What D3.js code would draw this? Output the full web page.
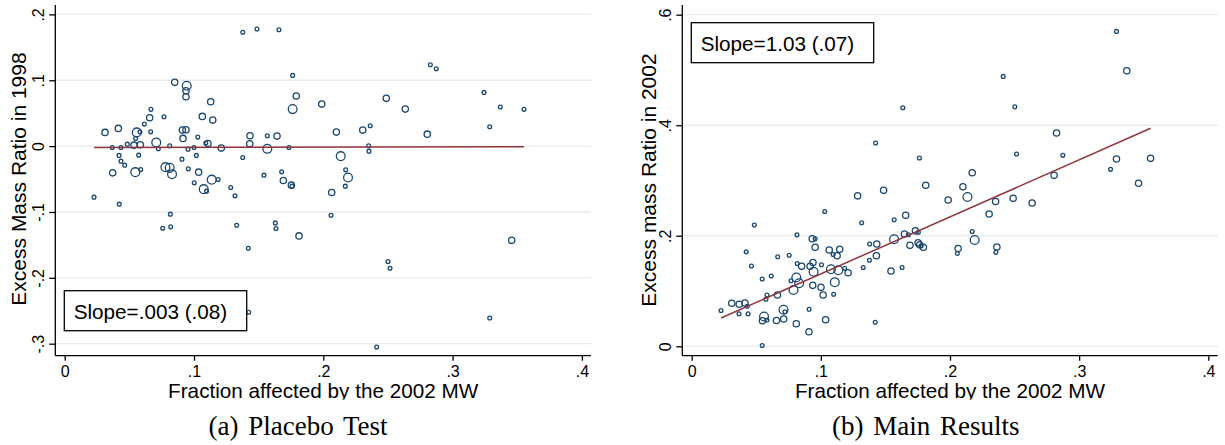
<!DOCTYPE html>
<html>
<head>
<meta charset="utf-8">
<script src="https://cdn.jsdelivr.net/npm/d3@7"></script>
<style>
  body { margin: 0; background: #fff; }
  text { font-family: "Liberation Sans", Arial, sans-serif; fill: #000; }
  .cap { font-family: "Liberation Serif", "Times New Roman", serif; }
</style>
</head>
<body>
<svg id="chart" width="1225" height="445"></svg>
<script>
// axis ticks
var xTicks = [0, .1, .2, .3, .4],
    xTickLabels = ["0", ".1", ".2", ".3", ".4"];
var placeboYTicks = [-.3, -.2, -.1, 0, .1, .2],
    placeboYLabels = ["-.3", "-.2", "-.1", "0", ".1", ".2"];
var mainYTicks = [0, .2, .4, .6],
    mainYLabels = ["0", ".2", ".4", ".6"];

// [fraction affected, excess mass ratio, weight]
var placeboPoints = [
  [0.0227,-0.0775,1],[0.0312,0.0208,2],[0.0368,-0.0020,1],[0.0371,-0.0406,2],[0.0415,0.0269,2],
  [0.0420,-0.0141,1],[0.0435,-0.0228,1],[0.0435,-0.0020,1],[0.0464,-0.0289,1],[0.0484,0.0030,1],
  [0.0536,0.0015,2],[0.0546,-0.0395,3],[0.0549,0.0117,1],[0.0557,0.0208,3],[0.0572,-0.0137,1],
  [0.0582,0.0217,1],[0.0585,0.0020,2],[0.0588,-0.0354,1],[0.0616,0.0334,1],[0.0657,0.0430,2],
  [0.0667,0.0558,1],[0.0665,0.0217,1],[0.0708,0.0056,3],[0.0724,-0.0041,1],[0.0768,0.0445,1],
  [0.0779,-0.0319,3],[0.0812,-0.0330,3],[0.0812,0.0005,1],[0.0830,-0.0426,3],[0.0851,0.0968,2],
  [0.0907,-0.0198,1],[0.0910,0.0243,2],[0.0915,0.0117,2],[0.0938,0.0248,2],[0.0938,0.0749,2],
  [0.0944,0.0916,3],[0.0938,0.0840,2],[0.0954,-0.0046,1],[0.0956,-0.0345,1],[0.1000,-0.0020,1],
  [0.1002,-0.0558,1],[0.1018,-0.0141,1],[0.1029,0.0137,1],[0.1036,-0.0395,2],[0.1064,0.0451,2],
  [0.1075,-0.0653,3],[0.1097,-0.0684,1],[0.1091,0.0046,1],[0.1108,0.0038,2],[0.1129,0.0673,2],
  [0.1137,-0.0509,3],[0.1145,0.0395,2],[0.1187,-0.0506,1],[0.1211,-0.0030,2],[0.1284,-0.0628,1],
  [0.1317,-0.0755,1],[0.1377,0.1728,1],[0.1377,-0.0172,1],[0.1431,0.0035,2],[0.1433,0.0157,2],
  [0.1487,0.1778,1],[0.1541,-0.0441,1],[0.1567,-0.0041,3],[0.1567,0.0157,1],[0.1642,0.0152,2],
  [0.1657,0.1767,1],[0.1678,-0.0391,1],[0.1691,-0.0521,2],[0.1735,-0.0020,1],[0.1753,-0.0593,2],
  [0.1758,-0.0608,1],[0.1763,0.1074,1],[0.1763,0.0562,3],[0.1791,0.0760,2],[0.1988,0.0638,2],
  [0.2101,0.0213,2],[0.2135,-0.0152,3],[0.2173,-0.0360,1],[0.2191,-0.0476,3],[0.2170,-0.0608,1],
  [0.2065,-0.0704,2],[0.2305,0.0243,2],[0.2363,0.0309,1],[0.2351,0.0005,1],[0.2353,-0.0076,1],
  [0.2487,0.0725,2],[0.2634,0.0562,2],[0.2804,0.0182,2],[0.2828,0.1236,1],[0.2874,0.1175,1],
  [0.3243,0.0816,1],[0.3287,0.0293,1],[0.3369,0.0593,1],[0.3552,0.0558,1],[0.0422,-0.0881,1],
  [0.0817,-0.1033,1],[0.0758,-0.1246,1],[0.0820,-0.1226,1],[0.1330,-0.1201,1],[0.1420,-0.1550,1],
  [0.1423,-0.2523,1],[0.1629,-0.1166,1],[0.1634,-0.1251,1],[0.1812,-0.1363,2],[0.2060,-0.1049,1],
  [0.3457,-0.1429,2],[0.2500,-0.1752,1],[0.2516,-0.1854,1],[0.3287,-0.2609,1],[0.2413,-0.3050,1]
];

var mainPoints = [
  [0.1635,0.4316,1],[0.1424,0.3678,1],[0.1763,0.3406,1],[0.1812,0.2914,2],[0.1285,0.2722,2],
  [0.1486,0.2822,2],[0.1030,0.2438,1],[0.1316,0.2236,1],[0.1568,0.2290,1],[0.1657,0.2372,2],
  [0.0485,0.2194,1],[0.3289,0.5698,1],[0.3369,0.4986,2],[0.2412,0.4884,1],[0.2502,0.4334,1],
  [0.2825,0.3859,2],[0.2515,0.3479,1],[0.2874,0.3455,1],[0.3289,0.3388,2],[0.3553,0.3401,2],
  [0.3243,0.3202,1],[0.2172,0.3140,2],[0.2100,0.2887,2],[0.2806,0.3093,2],[0.3460,0.2949,2],
  [0.1986,0.2646,2],[0.2135,0.2701,3],[0.2353,0.2619,2],[0.2489,0.2677,2],[0.2636,0.2592,2],
  [0.2303,0.2393,2],[0.2172,0.2077,1],[0.2191,0.1923,3],[0.2063,0.1769,2],[0.2057,0.1679,1],
  [0.2363,0.1796,2],[0.2355,0.1700,1],[0.0227,0.0648,1],[0.0310,0.0778,2],[0.0366,0.0590,1],
  [0.0368,0.0760,2],[0.0413,0.0783,2],[0.0430,0.0725,1],[0.0437,0.0590,1],[0.0422,0.1711,1],
  [0.0463,0.1453,1],[0.0546,0.1217,1],[0.0560,0.0539,3],[0.0548,0.0463,2],[0.0583,0.0476,1],
  [0.0546,0.0014,1],[0.0575,0.0852,1],[0.0583,0.0928,1],[0.0616,0.1272,1],[0.0656,0.0467,2],
  [0.0666,0.1621,1],[0.0664,0.0928,2],[0.0711,0.0662,3],[0.0712,0.0494,2],[0.0722,0.0624,1],
  [0.0755,0.1648,1],[0.0769,0.1187,1],[0.0810,0.0409,2],[0.0815,0.2017,1],[0.0817,0.1498,1],
  [0.0810,0.1245,3],[0.0788,0.1018,3],[0.0832,0.1141,3],[0.0851,0.1447,2],[0.0909,0.0671,1],
  [0.0908,0.0264,2],[0.0917,0.1449,2],[0.0937,0.1103,2],[0.0933,0.1946,2],[0.0956,0.1945,1],
  [0.0939,0.1516,2],[0.0944,0.1348,3],[0.0956,0.1793,2],[0.1005,0.1476,1],[0.1001,0.1067,2],
  [0.1018,0.0928,2],[0.1037,0.0481,2],[0.1065,0.1742,2],[0.1078,0.1395,3],[0.1099,0.0942,1],
  [0.1108,0.1160,3],[0.1095,0.1661,1],[0.1126,0.1639,2],[0.1146,0.1757,2],[0.1135,0.1377,3],
  [0.1184,0.1411,1],[0.1211,0.1330,2],[0.1328,0.1425,1],[0.1378,0.1851,1],[0.1376,0.1558,1],
  [0.1430,0.1639,2],[0.1433,0.1851,2],[0.1421,0.0434,1],[0.1543,0.1362,2],[0.1567,0.1937,3],
  [0.1629,0.1425,1],[0.1647,0.2031,2],[0.1678,0.2019,1],[0.1690,0.1827,2],[0.1732,0.2089,2],
  [0.1755,0.2064,1],[0.1753,0.1874,2],[0.1765,0.1836,2],[0.1777,0.1818,1],[0.1794,0.1791,2]
];

// fitted line [intercept, slope]
var placeboFit = [-0.0021, 0.003],
    mainFit = [0.0278, 1.032];

var svg = d3.select("#chart");
var navy = "#1a476f", maroon = "#90353b", grid = "#e6eef0";
var rScale = d3.scaleLinear().domain([1, 3]).range([1.9, 4.4]);

function panel(o) {
  var g = svg.append("g");
  var x = d3.scaleLinear().domain([0, .4]).range(o.xRange);
  var y = d3.scaleLinear().domain(o.yDomain).range(o.yRange);

  // grid lines
  g.append("g").selectAll("line").data(o.yTicks).enter().append("line")
    .attr("x1", o.left).attr("x2", o.right)
    .attr("y1", y).attr("y2", y)
    .attr("stroke", grid).attr("stroke-width", 1.3);

  // markers
  g.append("g").selectAll("circle").data(o.points).enter().append("circle")
    .attr("cx", function(d) { return x(d[0]); })
    .attr("cy", function(d) { return y(d[1]); })
    .attr("r", function(d) { return rScale(d[2]); })
    .attr("fill", "none").attr("stroke", navy).attr("stroke-width", 1.3);

  // fitted line
  var ext = d3.extent(o.points, function(d) { return d[0]; });
  g.append("line")
    .attr("x1", x(ext[0])).attr("x2", x(ext[1]))
    .attr("y1", y(o.fit[0] + o.fit[1] * ext[0]))
    .attr("y2", y(o.fit[0] + o.fit[1] * ext[1]))
    .attr("stroke", maroon).attr("stroke-width", 1.5);

  // axes
  var xAxis = g.append("g").attr("transform", "translate(0," + o.bottom + ")")
    .call(d3.axisBottom(x).tickValues(xTicks).tickSize(5).tickSizeOuter(0)
      .tickFormat(function(d, i) { return xTickLabels[i]; }));
  xAxis.select(".domain").attr("d", "M" + o.left + ",0H" + o.right);
  xAxis.selectAll("text").attr("dy", 0).attr("y", 21).style("font-size", "16px")
    .style("font-family", "Liberation Sans, Arial, sans-serif");

  var yAxis = g.append("g").attr("transform", "translate(" + o.left + ",0)")
    .call(d3.axisLeft(y).tickValues(o.yTicks).tickSize(6).tickSizeOuter(0)
      .tickFormat(function(d, i) { return o.yLabels[i]; }));
  yAxis.select(".domain").attr("d", "M0," + o.top + "V" + o.bottom);
  yAxis.selectAll("text").attr("x", null).attr("dy", 0)
    .attr("text-anchor", "middle")
    .attr("transform", "translate(-11.5,0) rotate(-90)")
    .style("font-size", "16px")
    .style("font-family", "Liberation Sans, Arial, sans-serif");
  g.selectAll(".domain, .tick line").attr("stroke", "#000").attr("stroke-width", 1.3);

  // titles
  var cx = (o.left + o.right) / 2;
  g.append("text").attr("clip-path", "url(#clipTitle)")
    .attr("x", cx).attr("y", 398).attr("text-anchor", "middle")
    .style("font-size", "20.7px").text("Fraction affected by the 2002 MW");
  g.append("text")
    .attr("transform", "translate(" + o.yTitleX + "," + o.yTitleY + ") rotate(-90)")
    .attr("text-anchor", "middle").style("font-size", "21px").text(o.yTitle);
  g.append("text").attr("class", "cap")
    .attr("x", o.capX).attr("y", 435).attr("text-anchor", "middle")
    .style("font-size", "27px").style("word-spacing", "3px").text(o.caption);

  // slope box
  g.append("rect")
    .attr("x", x(0) - 0.4).attr("y", o.boxY).attr("width", 182.4).attr("height", 40)
    .attr("fill", "#fff").attr("stroke", "#000").attr("stroke-width", 1.3);
  g.append("text").attr("x", x(0) + 9).attr("y", o.boxY + 28)
    .style("font-size", "20.7px").text(o.slope);
}

svg.append("clipPath").attr("id", "clipTitle")
  .append("rect").attr("x", 0).attr("y", 0).attr("width", 1225).attr("height", 399.5);

panel({
  points: placeboPoints, fit: placeboFit,
  xRange: [64.7, 581.9], yDomain: [-.3, .2], yRange: [343.7, 14.4],
  yTicks: placeboYTicks, yLabels: placeboYLabels,
  left: 55.3, right: 591, top: 5, bottom: 355.7,
  yTitle: "Excess Mass Ratio in 1998", yTitleX: 25.5, yTitleY: 179,
  caption: "(a) Placebo Test", capX: 298,
  slope: "Slope=.003 (.08)", boxY: 290.7
});

panel({
  points: mainPoints, fit: mainFit,
  xRange: [691.7, 1208.3], yDomain: [0, .6], yRange: [346.3, 14.7],
  yTicks: mainYTicks, yLabels: mainYLabels,
  left: 682.3, right: 1217.7, top: 5, bottom: 355.7,
  yTitle: "Excess mass Ratio in 2002", yTitleX: 656, yTitleY: 180,
  caption: "(b) Main Results", capX: 925.7,
  slope: "Slope=1.03 (.07)", boxY: 22.7
});
</script>
</body>
</html>
